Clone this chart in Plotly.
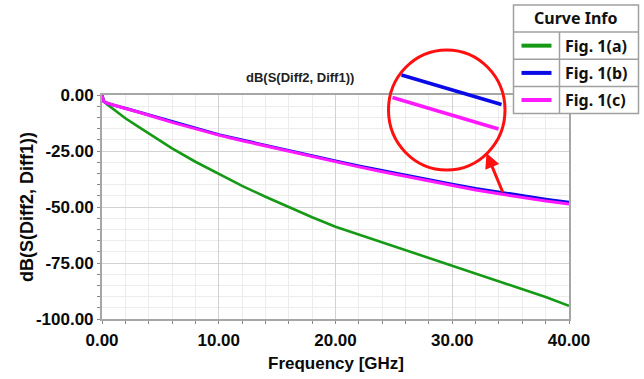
import plotly.graph_objects as go

# Frequency sweep (GHz) and insertion loss curves dB(S(Diff2, Diff1))
freq_ghz = [0, 0.05, 0.15, 0.4, 0.7, 1, 2, 3, 4, 5, 6, 8, 10, 12, 14, 16, 18,
            20, 22, 24, 26, 28, 30, 32, 34, 36, 38, 40]
fig1a_db = [0, -1.2, -2.6, -4.0, -5.2, -6.4, -10.4, -13.8, -17.1, -20.5, -23.8,
            -29.8, -35.3, -40.6, -45.4, -50.1, -54.6, -58.8, -62.3, -65.7, -69.2,
            -72.7, -76.3, -79.8, -83.2, -86.5, -90.2, -94.1]
fig1b_db = [0, -1.5, -2.9, -3.6, -4.1, -4.5, -5.9, -7.4, -8.8, -10.4, -12.0,
            -15.0, -17.7, -20.1, -22.5, -24.7, -27.1, -29.5, -31.7, -33.8, -35.9,
            -37.9, -39.8, -41.7, -43.4, -45.0, -46.5, -47.9]
fig1c_db = [0, -1.5, -2.9, -3.6, -4.1, -4.6, -6.0, -7.5, -8.9, -10.6, -12.2,
            -15.2, -17.9, -20.4, -22.8, -25.0, -27.5, -29.9, -32.1, -34.3, -36.4,
            -38.5, -40.4, -42.4, -44.1, -45.8, -47.3, -48.7]

series_names = ["Fig. 1(a)", "Fig. 1(b)", "Fig. 1(c)"]
series_colors = ["#169a16", "#0a0ae6", "#ff19ff"]
series_values = [fig1a_db, fig1b_db, fig1c_db]

x_ticks = [0, 10, 20, 30, 40]
y_ticks = [0, -25, -50, -75, -100]

x_title = "Frequency [GHz]"
y_title = "dB(S(Diff2, Diff1))"
plot_title = "dB(S(Diff2, Diff1))"

W, H = 644, 379
ML, MR, MT, MB = 102, 75, 95, 60
PW, PH = W - ML - MR, H - MT - MB

SANS = "Liberation Sans"


def px(x):
    """Page pixel column -> paper x."""
    return (x - ML) / PW


def py(y):
    """Page pixel row -> paper y."""
    return (H - MB - y) / PH


def bold_labels(values):
    return [f"<b>{v:.2f}</b>" for v in values]


fig = go.Figure()
for name, color, vals in zip(series_names, series_colors, series_values):
    fig.add_trace(go.Scatter(x=freq_ghz, y=vals, mode="lines", name=name,
                             line=dict(color=color, width=3 if name != "Fig. 1(a)" else 2.6),
                             showlegend=False))

axis_font = dict(family=SANS, size=17, color="#0a0a0a", weight="bold")
common_axis = dict(
    showline=True, linecolor="#a6a6a6", linewidth=2, mirror=True,
    showgrid=True, gridcolor="#d2d2d2", gridwidth=1,
    zeroline=False, ticks="outside", ticklen=3, tickcolor="#888888",
    tickfont=axis_font,
)

fig.update_xaxes(range=[0, 40], tickvals=x_ticks, ticktext=bold_labels(x_ticks),
                 ticklabelstandoff=2,
                 minor=dict(dtick=2, showgrid=True, gridcolor="#ececec",
                            ticks="outside", ticklen=3, tickcolor="#888888"),
                 **common_axis)
fig.update_yaxes(range=[-100, 0], tickvals=y_ticks, ticktext=bold_labels(y_ticks),
                 minor=dict(dtick=5, showgrid=True, gridcolor="#ececec",
                            ticks="outside", ticklen=3, tickcolor="#888888"),
                 **common_axis)

shapes = []
annotations = []

# Axis titles
annotations.append(dict(xref="paper", yref="paper", x=0.5, y=py(363.5),
                        text=f"<b>{x_title}</b>", showarrow=False,
                        font=dict(family=SANS, size=17, color="#0a0a0a", weight="bold"),
                        xanchor="center", yanchor="middle"))
annotations.append(dict(xref="paper", yref="paper", x=px(27), y=0.5,
                        text=f"<b>{y_title}</b>", showarrow=False, textangle=-90,
                        font=dict(family=SANS, size=18, color="#0a0a0a", weight="bold"),
                        xanchor="center", yanchor="middle"))

# Magnifier circle with a close-up of the two nearly overlapping curves
shapes.append(dict(type="circle", xref="paper", yref="paper",
                   x0=px(388.5), x1=px(505), y0=py(170), y1=py(50),
                   line=dict(color="#ff1010", width=3), layer="above"))
shapes.append(dict(type="line", xref="paper", yref="paper",
                   x0=px(401.5), y0=py(75), x1=px(501.5), y1=py(104.5),
                   line=dict(color=series_colors[1], width=3.5), layer="above"))
shapes.append(dict(type="line", xref="paper", yref="paper",
                   x0=px(392.5), y0=py(97.5), x1=px(498.5), y1=py(129),
                   line=dict(color=series_colors[2], width=3.5), layer="above"))
annotations.append(dict(xref="paper", yref="paper", x=px(486.5), y=py(153),
                        text="", showarrow=True, ax=17, ay=41,
                        arrowhead=2, arrowsize=1, arrowwidth=3,
                        arrowcolor="#ff1010"))

# Curve Info table
lx0, lx1, ly0, ly1 = 513.5, 638.5, 5, 113.5
row_edges = [5, 32, 59.3, 86.5, 113.5]
col_split = 559.5
grid_line = dict(color="#a0a0a0", width=1.5)
shapes.append(dict(type="rect", xref="paper", yref="paper",
                   x0=px(lx0), x1=px(lx1), y0=py(ly1), y1=py(ly0),
                   fillcolor="white", line=grid_line, layer="above"))
for yr in row_edges[1:-1]:
    shapes.append(dict(type="line", xref="paper", yref="paper",
                       x0=px(lx0), x1=px(lx1), y0=py(yr), y1=py(yr),
                       line=grid_line, layer="above"))
shapes.append(dict(type="line", xref="paper", yref="paper",
                   x0=px(col_split), x1=px(col_split),
                   y0=py(row_edges[1]), y1=py(ly1), line=grid_line, layer="above"))

legend_font = dict(family="Noto Sans", size=16, color="#111111", weight="bold")
annotations.append(dict(xref="paper", yref="paper",
                        x=px((lx0 + lx1) / 2), y=py((row_edges[0] + row_edges[1]) / 2),
                        text="<b>Curve Info</b>", showarrow=False, font=legend_font,
                        xanchor="center", yanchor="middle"))
for i, (name, color) in enumerate(zip(series_names, series_colors)):
    yc = (row_edges[i + 1] + row_edges[i + 2]) / 2
    shapes.append(dict(type="line", xref="paper", yref="paper",
                       x0=px(521.5), x1=px(551.5), y0=py(yc), y1=py(yc),
                       line=dict(color=color, width=4), layer="above"))
    annotations.append(dict(xref="paper", yref="paper", x=px(563), y=py(yc),
                            text=f"<b>{name}</b>", showarrow=False, font=legend_font,
                            xanchor="left", yanchor="middle"))

# Plot title
annotations.append(dict(xref="paper", yref="paper", x=px(300), y=py(77.5),
                        text=f"<b>{plot_title}</b>", showarrow=False,
                        font=dict(family=SANS, size=13, color="#222222", weight="bold"),
                        xanchor="center", yanchor="middle"))

fig.update_layout(
    width=W, height=H, autosize=False,
    margin=dict(l=ML, r=MR, t=MT, b=MB),
    paper_bgcolor="white", plot_bgcolor="white",
    font=dict(family=SANS),
    shapes=shapes, annotations=annotations,
    showlegend=False,
)

fig.write_html("out.html")
